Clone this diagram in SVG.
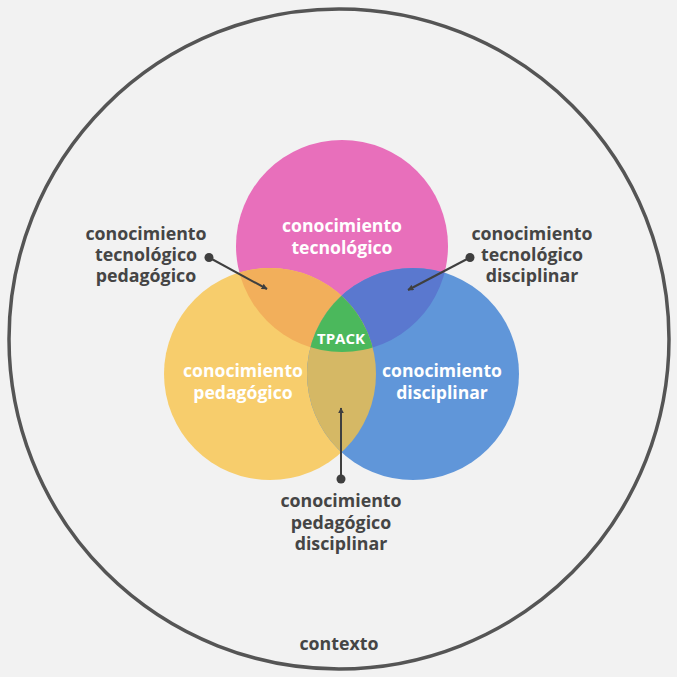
<svg xmlns="http://www.w3.org/2000/svg" width="677" height="677" viewBox="0 0 677 677">
<defs>
<style>
.in{font-family:"Open Sans","Noto Sans","Liberation Sans",sans-serif;font-weight:700;font-size:17.6px;fill:#ffffff;text-anchor:middle}
.lb{font-family:"Open Sans","Noto Sans","Liberation Sans",sans-serif;font-weight:700;font-size:17.8px;fill:#454545;text-anchor:middle}
.ln{stroke:#3f3f3f;stroke-width:2;fill:none}
.dot{fill:#3f3f3f}
</style>
<marker id="ah" viewBox="0 0 10 10" refX="9" refY="5" markerWidth="6" markerHeight="6" markerUnits="userSpaceOnUse" orient="auto">
<path d="M0,0 L10,5 L0,10 z" fill="#3f3f3f"/>
</marker>
<clipPath id="cy"><circle cx="270" cy="374" r="106"/></clipPath>
<clipPath id="cb"><circle cx="413" cy="374" r="106"/></clipPath>
<clipPath id="cyb" clip-path="url(#cb)"><circle cx="270" cy="374" r="106"/></clipPath>
</defs>
<rect width="677" height="677" fill="#f2f2f2"/>
<g id="contexto">
<circle cx="339" cy="339" r="330" fill="none" stroke="#555555" stroke-width="3.5"/>
<text class="lb" x="339" y="650">contexto</text>
</g>
<g id="tecnologico"><circle cx="342" cy="246" r="106" fill="#e86fbb"/></g>
<g id="pedagogico"><circle cx="270" cy="374" r="106" fill="#f7cd6c"/></g>
<g id="disciplinar"><circle cx="413" cy="374" r="106" fill="#6096d9"/></g>
<g id="tpk"><circle cx="342" cy="246" r="106" fill="#f2af5b" clip-path="url(#cy)"/></g>
<g id="tck"><circle cx="342" cy="246" r="106" fill="#5a78cf" clip-path="url(#cb)"/></g>
<g id="pck"><circle cx="270" cy="374" r="106" fill="#d5b865" clip-path="url(#cb)"/></g>
<g id="tpack">
<circle cx="342" cy="246" r="106" fill="#4bb85c" clip-path="url(#cyb)"/>
<text class="in" x="341" y="344" style="font-size:15px">TPACK</text>
</g>
<g id="labels-in">
<text class="in" x="342" y="232">conocimiento<tspan x="342" dy="22">tecnológico</tspan></text>
<text class="in" x="243" y="377">conocimiento<tspan x="243" dy="22">pedagógico</tspan></text>
<text class="in" x="442" y="377">conocimiento<tspan x="442" dy="22">disciplinar</tspan></text>
</g>
<g id="label-tpk">
<text class="lb" x="146" y="240">conocimiento<tspan x="146" dy="21">tecnológico</tspan><tspan x="146" dy="21">pedagógico</tspan></text>
</g>
<g id="label-tck">
<text class="lb" x="532" y="240">conocimiento<tspan x="532" dy="21">tecnológico</tspan><tspan x="532" dy="21">disciplinar</tspan></text>
</g>
<g id="label-pck">
<text class="lb" x="341" y="507">conocimiento<tspan x="341" dy="22">pedagógico</tspan><tspan x="341" dy="21">disciplinar</tspan></text>
</g>
<g id="connectors">
<circle class="dot" cx="209" cy="257.5" r="4.5"/>
<line class="ln" x1="209" y1="257.5" x2="267" y2="289" marker-end="url(#ah)"/>
<circle class="dot" cx="470" cy="257.5" r="4.5"/>
<line class="ln" x1="470" y1="257.5" x2="408" y2="290" marker-end="url(#ah)"/>
<circle class="dot" cx="341" cy="479" r="4.5"/>
<line class="ln" x1="341" y1="479" x2="341" y2="408" marker-end="url(#ah)"/>
</g>
</svg>
